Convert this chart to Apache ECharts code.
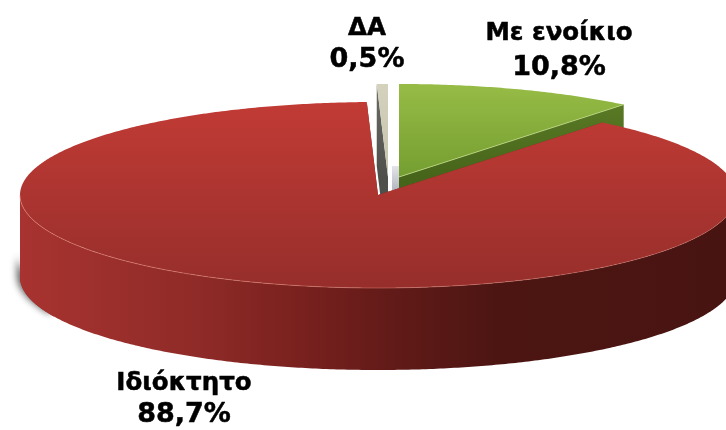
<!DOCTYPE html>
<html>
<head>
<meta charset="utf-8">
<style>html,body{margin:0;padding:0;background:#fff}#c{width:726px;height:430px}</style>
<script src="https://cdn.jsdelivr.net/npm/echarts@6/dist/echarts.min.js"></script>
</head>
<body>
<div id="c"></div>
<script>
var categories = ['Με ενοίκιο', 'Ιδιόκτητο', 'ΔΑ'];
var values = [10.8, 88.7, 0.5];

// Appearance of the tilted pie
var centre = [378, 195], radiusX = 358, radiusY = 93, depth = 82;
var explode = [[21, -18], [0, 0], [10, -18]];
var labelAt = [[559, 51], [184, 399], [367, 44]];
var labelLine = [34, 31, 31];
var layers = [1, 3, 2];
var topColors = [['#97bc46', '#749e31'], ['#c23b35', '#962e2b'], ['#d4d2bd', '#c4c2ab']];
var cutColors = [['#5f7f28', '#47651a'], ['#7a221f', '#7a221f'], ['#6a6a66', '#4f4f4c']];

var total = values.reduce(function (a, b) { return a + b; }, 0);
function sweep(i) {
  var before = 0;
  for (var k = 0; k < i; k++) before += values[k];
  return [before / total * Math.PI * 2, (before + values[i]) / total * Math.PI * 2];
}
function pt(c, t, dz) {
  return [c[0] + radiusX * Math.sin(t), c[1] - radiusY * Math.cos(t) + (dz || 0)];
}
function arc(c, a, b, dz) {
  var n = Math.max(4, Math.ceil((b - a) / 0.01)), out = [];
  for (var i = 0; i <= n; i++) out.push(pt(c, a + (b - a) * i / n, dz));
  return out;
}
function vGrad(y0, y1, colors) {
  return { type: 'linear', global: true, x: 0, y: y0, x2: 0, y2: y1,
    colorStops: [{ offset: 0, color: colors[0] }, { offset: 1, color: colors[1] }] };
}

function renderItem(params) {
  var i = params.dataIndex, s = sweep(i), z = layers[i], kids = [];
  var c = [centre[0] + explode[i][0], centre[1] + explode[i][1]];

  // outer wall: only the part that faces the viewer
  var w0 = Math.max(s[0], Math.PI / 2), w1 = Math.min(s[1], Math.PI * 1.5);
  if (w1 > w0) {
    // soft shadow low on the left of the wall
    var sa = Math.PI * 1.36;
    kids.push({
      type: 'polygon', z2: z,
      shape: { points: arc(c, sa, w1, depth - 22).concat(arc(c, sa, w1, depth).reverse()) },
      style: { fill: '#8f2b28', shadowBlur: 7, shadowColor: 'rgba(50,50,50,0.8)', shadowOffsetX: -3, shadowOffsetY: -2 }
    });
    var upper = arc(c, w0, w1, 0), lower = arc(c, w0, w1, depth).reverse();
    kids.push({
      type: 'polygon', z2: z,
      shape: { points: upper.concat(lower) },
      style: {
        fill: { type: 'linear', global: true, x: 20, y: 0, x2: 726, y2: 0, colorStops: [
          { offset: 0, color: '#a83330' }, { offset: 0.25, color: '#8f2b28' },
          { offset: 0.38, color: '#7c221f' }, { offset: 0.49, color: '#681c1a' },
          { offset: 0.55, color: '#5e1a17' }, { offset: 0.68, color: '#4c1512' },
          { offset: 1, color: '#481411' }] }
      }
    });
  }
  // cut faces
  [s[1], s[0]].forEach(function (t) {
    var e = pt(c, t);
    kids.push({
      type: 'polygon', z2: z,
      shape: { points: [c, e, [e[0], e[1] + depth], [c[0], c[1] + depth]] },
      style: { fill: vGrad(c[1] - radiusY, c[1], cutColors[i]) }
    });
  });
  // small pale reflection beside the green slice
  if (i === 0) {
    kids.push({
      type: 'rect', z2: z,
      shape: { x: c[0] - 7, y: c[1] - 11, width: 7, height: 24 },
      style: { fill: { type: 'linear', x: 0, y: 0, x2: 0, y2: 1, colorStops: [
        { offset: 0, color: '#e4e5ea' }, { offset: 1, color: '#b5b7c0' }] } }
    });
  }
  // top face
  kids.push({
    type: 'polygon', z2: z + 0.1,
    shape: { points: [c].concat(arc(c, s[0], s[1], 0)) },
    style: { fill: vGrad(c[1] - radiusY, c[1] + (i === 1 ? radiusY : 0), topColors[i]) }
  });
  // thin highlight along the front rim and cut edge
  if (w1 > w0) {
    kids.push({
      type: 'polyline', z2: z + 0.2,
      shape: { points: arc(c, w0, w1, 0) },
      style: { fill: 'none', lineWidth: 1, stroke: { type: 'linear', global: true, x: 20, y: 0, x2: 726, y2: 0,
        colorStops: [{ offset: 0, color: 'rgba(235,140,125,0.55)' }, { offset: 1, color: 'rgba(235,140,125,0.3)' }] } }
    });
  }
  if (i === 0) {
    kids.push({
      type: 'line', z2: z + 0.2,
      shape: { x1: c[0], y1: c[1], x2: pt(c, s[1])[0], y2: pt(c, s[1])[1] },
      style: { stroke: 'rgba(190,215,130,0.8)', lineWidth: 1 }
    });
  }
  return { type: 'group', children: kids };
}

var labels = categories.map(function (name, i) {
  return {
    type: 'text', x: labelAt[i][0], y: labelAt[i][1], z: 100,
    style: {
      text: '{n|' + name + '}\n{v|' + values[i].toFixed(1).replace('.', ',') + '%}',
      align: 'center', verticalAlign: 'middle',
      rich: {
        n: { fontFamily: 'DejaVu Sans', fontWeight: 'bold', fontSize: 24.5, lineHeight: labelLine[i], fill: '#000', stroke: '#000', lineWidth: 0.5, align: 'center' },
        v: { fontFamily: 'DejaVu Sans', fontWeight: 'bold', fontSize: 27, lineHeight: labelLine[i], fill: '#000', stroke: '#000', lineWidth: 0.5, align: 'center' }
      }
    }
  };
});

var chart = echarts.init(document.getElementById('c'), null, { renderer: 'canvas' });
chart.setOption({
  animation: false,
  backgroundColor: '#fff',
  series: [{
    type: 'custom', coordinateSystem: 'none', silent: true, clip: false,
    renderItem: renderItem,
    data: values.map(function (v, i) { return { name: categories[i], value: v }; })
  }],
  graphic: { elements: labels }
});
</script>
</body>
</html>
